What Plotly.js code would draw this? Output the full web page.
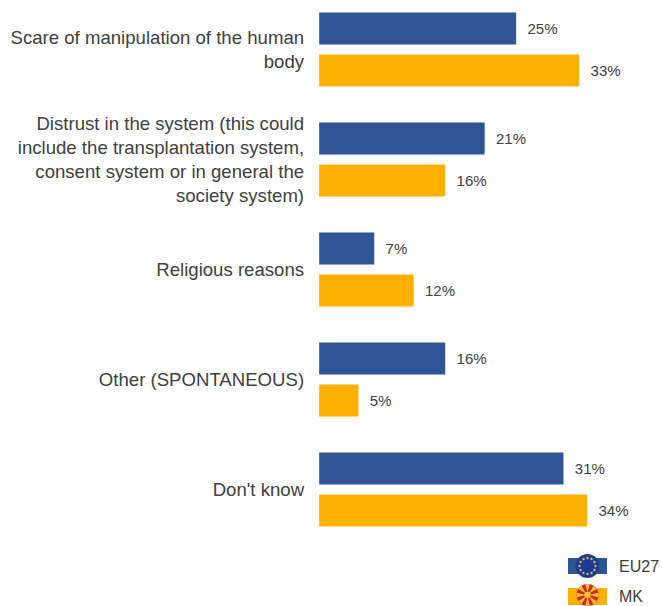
<!DOCTYPE html>
<html><head><meta charset="utf-8">
<script src="https://cdn.plot.ly/plotly-3.0.0.min.js"></script>
<style>html,body{margin:0;padding:0;background:#fff}</style></head>
<body><div id="c" style="width:662px;height:606px"></div>
<script>
const categories=["Scare of manipulation of the human<br>body","Distrust in the system (this could<br>include the transplantation system,<br>consent system or in general the<br>society system)","Religious reasons","Other (SPONTANEOUS)","Don't know"];
const eu27=[25,21,7,16,31];
const mk=[33,16,12,5,34];
const seriesNames=["EU27","MK"];
const colors=["#2F5597","#FFB000"];
const W=662,H=606;
const fnt={family:"Liberation Sans, Arial, sans-serif",size:18.6,color:"#404040"};
const lab=v=>v.map(x=>"\u00A0\u00A0"+x+"%");
const data=[
 {type:"bar",orientation:"h",name:seriesNames[0],y:categories,x:eu27,text:lab(eu27),textposition:"outside",cliponaxis:false,marker:{color:colors[0]},textfont:{...fnt,size:15}},
 {type:"bar",orientation:"h",name:seriesNames[1],y:categories,x:mk,text:lab(mk),textposition:"outside",cliponaxis:false,marker:{color:colors[1]},textfont:{...fnt,size:15}}
];
// legend flags, in pixel positions of the picture
const px=x=>x/W, py=y=>1-y/H;
const rect=(x0,y0,x1,y1,c)=>({type:"rect",xref:"paper",yref:"paper",x0:px(x0),x1:px(x1),y0:py(y0),y1:py(y1),fillcolor:c,line:{width:0}});
const circ=(cx,cy,r,c)=>({type:"circle",xref:"paper",yref:"paper",x0:px(cx-r),x1:px(cx+r),y0:py(cy+r),y1:py(cy-r),fillcolor:c,line:{width:0}});
const shapes=[rect(568,558,607,574,colors[0]),circ(587.5,566,12,"#1F3A93")];
for(let i=0;i<12;i++){const a=i*Math.PI/6;shapes.push(circ(587.5+8*Math.cos(a),566+8*Math.sin(a),1.2,"#C9B545"));}
shapes.push(rect(568,588,607,605,colors[1]),circ(587.5,595,11,"#D8281E"));
for(let i=0;i<8;i++){const a=i*Math.PI/4,d=0.2,R=11,cx=587.5,cy=595;
 const p=(r,t)=>px(cx+r*Math.cos(t))+","+py(cy+r*Math.sin(t));
 shapes.push({type:"path",xref:"paper",yref:"paper",path:"M"+p(2,a)+"L"+p(R,a-d)+"L"+p(R,a+d)+"Z",fillcolor:"#F6C53A",line:{width:0}});}
shapes.push(circ(587.5,595,3.2,"#F6C53A"));
const annotations=[[seriesNames[0],617,566],[seriesNames[1],617,596]].map(([t,x,y])=>({text:t,xref:"paper",yref:"paper",x:px(x),y:py(y),xanchor:"left",yanchor:"middle",showarrow:false,font:{...fnt,size:16}}));
const layout={width:W,height:H,margin:{l:0,r:0,t:0,b:0},paper_bgcolor:"#fff",plot_bgcolor:"#fff",showlegend:false,
 font:fnt,barmode:"group",bargap:0.236,bargroupgap:0.238,shapes,annotations,
 xaxis:{domain:[0.482,1],range:[0,43.5],visible:false},
 yaxis:{domain:[0.1015,1],range:[4.5,-0.45],showline:false,ticks:"",tickfont:fnt,ticklabelstandoff:14}
};
Plotly.newPlot("c",data,layout,{displayModeBar:false});
</script></body></html>
